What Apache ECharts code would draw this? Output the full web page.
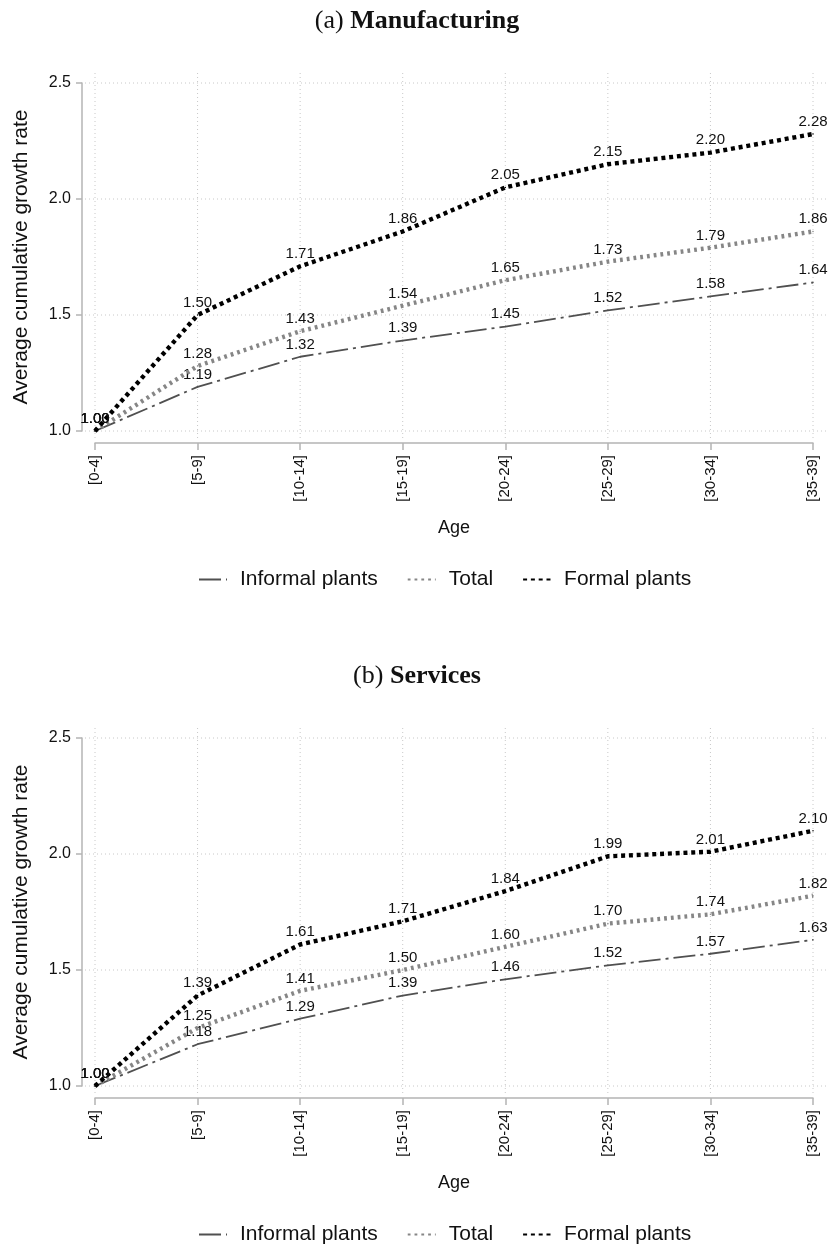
<!DOCTYPE html>
<html>
<head>
<meta charset="utf-8">
<script src="https://cdn.jsdelivr.net/npm/echarts@6/dist/echarts.min.js"></script>
<style>
  html, body { margin: 0; padding: 0; background: #fff; }
  #chart { width: 834px; height: 1249px; }
</style>
</head>
<body>
<div id="chart"></div>
<script>
// Age groups of plants (x categories)
const ageGroups = ['[0-4]', '[5-9]', '[10-14]', '[15-19]', '[20-24]', '[25-29]', '[30-34]', '[35-39]'];
const yTicks = [1.0, 1.5, 2.0, 2.5];

// (a) Manufacturing: average cumulative growth rate by age
const mfgInformal = [1.00, 1.19, 1.32, 1.39, 1.45, 1.52, 1.58, 1.64];
const mfgTotal    = [1.00, 1.28, 1.43, 1.54, 1.65, 1.73, 1.79, 1.86];
const mfgFormal   = [1.00, 1.50, 1.71, 1.86, 2.05, 2.15, 2.20, 2.28];

// (b) Services
const srvInformal = [1.00, 1.18, 1.29, 1.39, 1.46, 1.52, 1.57, 1.63];
const srvTotal    = [1.00, 1.25, 1.41, 1.50, 1.60, 1.70, 1.74, 1.82];
const srvFormal   = [1.00, 1.39, 1.61, 1.71, 1.84, 1.99, 2.01, 2.10];

const SANS = "'Liberation Sans', Arial, Helvetica, sans-serif";
const SERIF = "'Liberation Serif', 'DejaVu Serif', serif";
const AXIS_GRAY = '#b4b4b4';
const GRID_GRAY = '#c8c8c8';

const panels = [
  { label: '(a) ', title: 'Manufacturing', top: 83, informal: mfgInformal, total: mfgTotal, formal: mfgFormal },
  { label: '(b) ', title: 'Services', top: 738, informal: srvInformal, total: srvTotal, formal: srvFormal }
];
const PLOT_H = 348;

const labelStyle = {
  show: true, position: 'top', distance: 4,
  fontFamily: SANS, fontSize: 15, color: '#111',
  formatter: p => p.value.toFixed(2)
};

const lineDefs = [
  { name: 'Informal plants', key: 'informal', color: '#505050', width: 1.8, dash: [22, 5, 3, 5], z: 3 },
  { name: 'Total',           key: 'total',    color: '#868686', width: 4.4, dash: [2.8, 4],     z: 4 },
  { name: 'Formal plants',   key: 'formal',   color: '#000000', width: 4.4, dash: [4, 3.8],     z: 5 }
];

const option = {
  backgroundColor: '#ffffff',
  animation: false,
  title: [], grid: [], xAxis: [], yAxis: [], legend: [], series: []
};

panels.forEach((p, gi) => {
  const off = p.top - 83;
  option.title.push({
    left: 'center', top: 3 + off,
    text: '{n|' + p.label + '}{b|' + p.title + '}',
    textStyle: {
      rich: {
        n: { fontFamily: SERIF, fontSize: 26, fontWeight: 'normal', color: '#111' },
        b: { fontFamily: SERIF, fontSize: 26, fontWeight: 'bold', color: '#111' }
      }
    }
  });
  option.grid.push({ left: 95, right: 21, top: p.top, height: PLOT_H });
  option.xAxis.push({
    gridIndex: gi, type: 'category', data: ageGroups, boundaryGap: false,
    offset: 12,
    name: 'Age', nameLocation: 'middle', nameGap: 76,
    nameTextStyle: { fontFamily: SANS, fontSize: 18, color: '#111' },
    axisLine: { lineStyle: { color: AXIS_GRAY, width: 1.5 } },
    axisTick: { length: 7, lineStyle: { color: AXIS_GRAY, width: 1.5 } },
    axisLabel: { rotate: 90, margin: 12, fontFamily: SANS, fontSize: 15, color: '#111' },
    splitLine: { show: false }
  });
  option.yAxis.push({
    gridIndex: gi, type: 'value', min: 1, max: 2.5, interval: 0.5,
    offset: 13,
    name: 'Average cumulative growth rate', nameLocation: 'middle', nameGap: 50,
    nameTextStyle: { fontFamily: SANS, fontSize: 21, color: '#111' },
    axisLine: { show: true, lineStyle: { color: AXIS_GRAY, width: 1.5 } },
    axisTick: { show: true, length: 6, lineStyle: { color: AXIS_GRAY, width: 1.5 } },
    axisLabel: { margin: 11, fontFamily: SANS, fontSize: 16, color: '#111', formatter: v => v.toFixed(1) },
    splitLine: { show: false }
  });
  option.legend.push({
    top: p.top + 481, left: 193,
    data: lineDefs.map(d => d.name),
    itemWidth: 28, itemHeight: 12, itemGap: 29,
    itemStyle: { opacity: 0 },
    textStyle: { fontFamily: SANS, fontSize: 21, color: '#111', padding: [0, 0, 0, 8] }
  });

  // dotted reference grid, a little wider than the data range
  option.series.push({
    type: 'custom', xAxisIndex: gi, yAxisIndex: gi, silent: true, z: 1, clip: false,
    data: ageGroups.map((c, i) => [i, 1]),
    renderItem(params, api) {
      const i = api.value(0);
      const t = api.coord([i, yTicks[yTicks.length - 1]]);
      const b = api.coord([i, yTicks[0]]);
      const st = { stroke: GRID_GRAY, lineWidth: 1, lineDash: [1, 3] };
      const children = [{
        type: 'line', shape: { x1: t[0], y1: t[1] - 10, x2: b[0], y2: b[1] + 7 }, style: st
      }];
      if (i === 0) {
        yTicks.forEach(v => {
          const l = api.coord([0, v]);
          const r = api.coord([ageGroups.length - 1, v]);
          children.push({ type: 'line', shape: { x1: l[0] - 10, y1: l[1], x2: r[0] + 14, y2: r[1] }, style: st });
        });
      }
      return { type: 'group', children };
    }
  });

  lineDefs.forEach(d => {
    option.series.push({
      type: 'line', name: d.name, xAxisIndex: gi, yAxisIndex: gi, z: d.z,
      data: p[d.key],
      symbol: 'circle', symbolSize: 1.5, showSymbol: true,
      lineStyle: { color: d.color, width: d.width, type: d.dash, cap: 'butt' },
      itemStyle: { color: d.color },
      label: labelStyle
    });
  });
});

const chart = echarts.init(document.getElementById('chart'), null, { renderer: 'canvas' });
chart.setOption(option);
</script>
</body>
</html>
